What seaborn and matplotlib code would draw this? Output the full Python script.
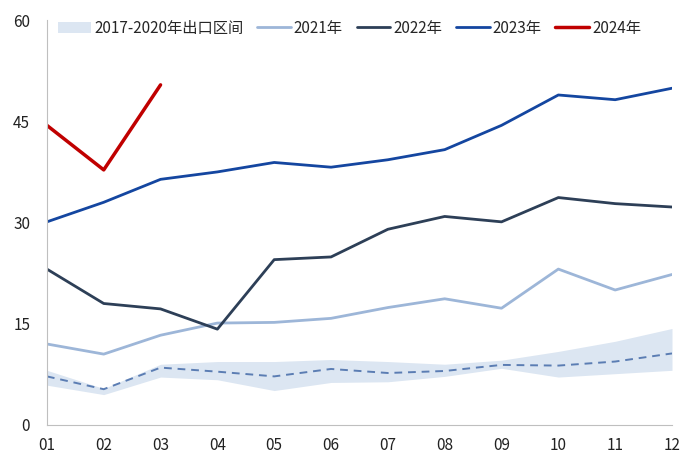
import numpy as np
import pandas as pd
import matplotlib
matplotlib.use("Agg")
import matplotlib.pyplot as plt
import seaborn as sns

months = ["01", "02", "03", "04", "05", "06", "07", "08", "09", "10", "11", "12"]

band_low = [5.9, 4.5, 7.1, 6.7, 5.1, 6.3, 6.4, 7.2, 8.4, 7.1, 7.6, 8.1]
band_high = [8.1, 5.4, 9.0, 9.4, 9.4, 9.7, 9.4, 9.0, 9.6, 10.9, 12.4, 14.3]
band_mean = [7.2, 5.3, 8.5, 7.9, 7.2, 8.3, 7.7, 8.0, 8.9, 8.8, 9.4, 10.6]

y2021 = [12.0, 10.5, 13.3, 15.1, 15.2, 15.8, 17.4, 18.7, 17.3, 23.1, 20.0, 22.3]
y2022 = [23.1, 18.0, 17.2, 14.2, 24.5, 24.9, 29.0, 30.9, 30.1, 33.7, 32.8, 32.3]
y2023 = [30.1, 33.0, 36.4, 37.5, 38.9, 38.2, 39.3, 40.8, 44.4, 48.9, 48.2, 49.9]
y2024 = [44.4, 37.8, 50.4]

series = {"2021年": y2021, "2022年": y2022, "2023年": y2023, "2024年": y2024}
colors = {"2021年": "#9DB6D8", "2022年": "#2D3F57", "2023年": "#1446A0", "2024年": "#C00000"}
widths = {"2021年": 2.0, "2022年": 2.0, "2023年": 2.0, "2024年": 2.5}

sns.set_style("white")
plt.rcParams["font.family"] = ["Noto Sans CJK SC", "DejaVu Sans"]

fig = plt.figure(figsize=(7, 4.67), dpi=100)
ax = fig.add_axes([0.067, 0.09, 0.893, 0.867])

x = np.arange(len(months))
ax.fill_between(x, band_low, band_high, color="#DCE6F2", linewidth=0,
                label="2017-2020年出口区间")
sns.lineplot(x=x, y=band_mean, ax=ax, color="#5B7DB3", linewidth=1.4,
             linestyle=(0, (4, 3)), legend=False)

for name, vals in series.items():
    sns.lineplot(x=x[:len(vals)], y=vals, ax=ax, color=colors[name],
                 linewidth=widths[name], label=name)

ax.set_xlim(0, 11)
ax.set_ylim(0, 60)
ax.set_yticks([0, 15, 30, 45, 60])
ax.set_xticks(x)
ax.set_xticklabels(months)
ax.tick_params(axis="both", length=0, labelsize=11, colors="#222222")
ax.tick_params(axis="x", pad=9)
ax.tick_params(axis="y", pad=12)
ax.set_xlabel("")
ax.set_ylabel("")

for side in ["top", "right"]:
    ax.spines[side].set_visible(False)
ax.spines["left"].set_color("#BFBFBF")
ax.spines["bottom"].set_color("#BFBFBF")

ax.legend(loc="upper left", bbox_to_anchor=(-0.005, 1.035), ncol=5, frameon=False,
          fontsize=11, handlelength=2.2, columnspacing=0.9, handletextpad=0.2)

fig.savefig("out.png", dpi=100)
